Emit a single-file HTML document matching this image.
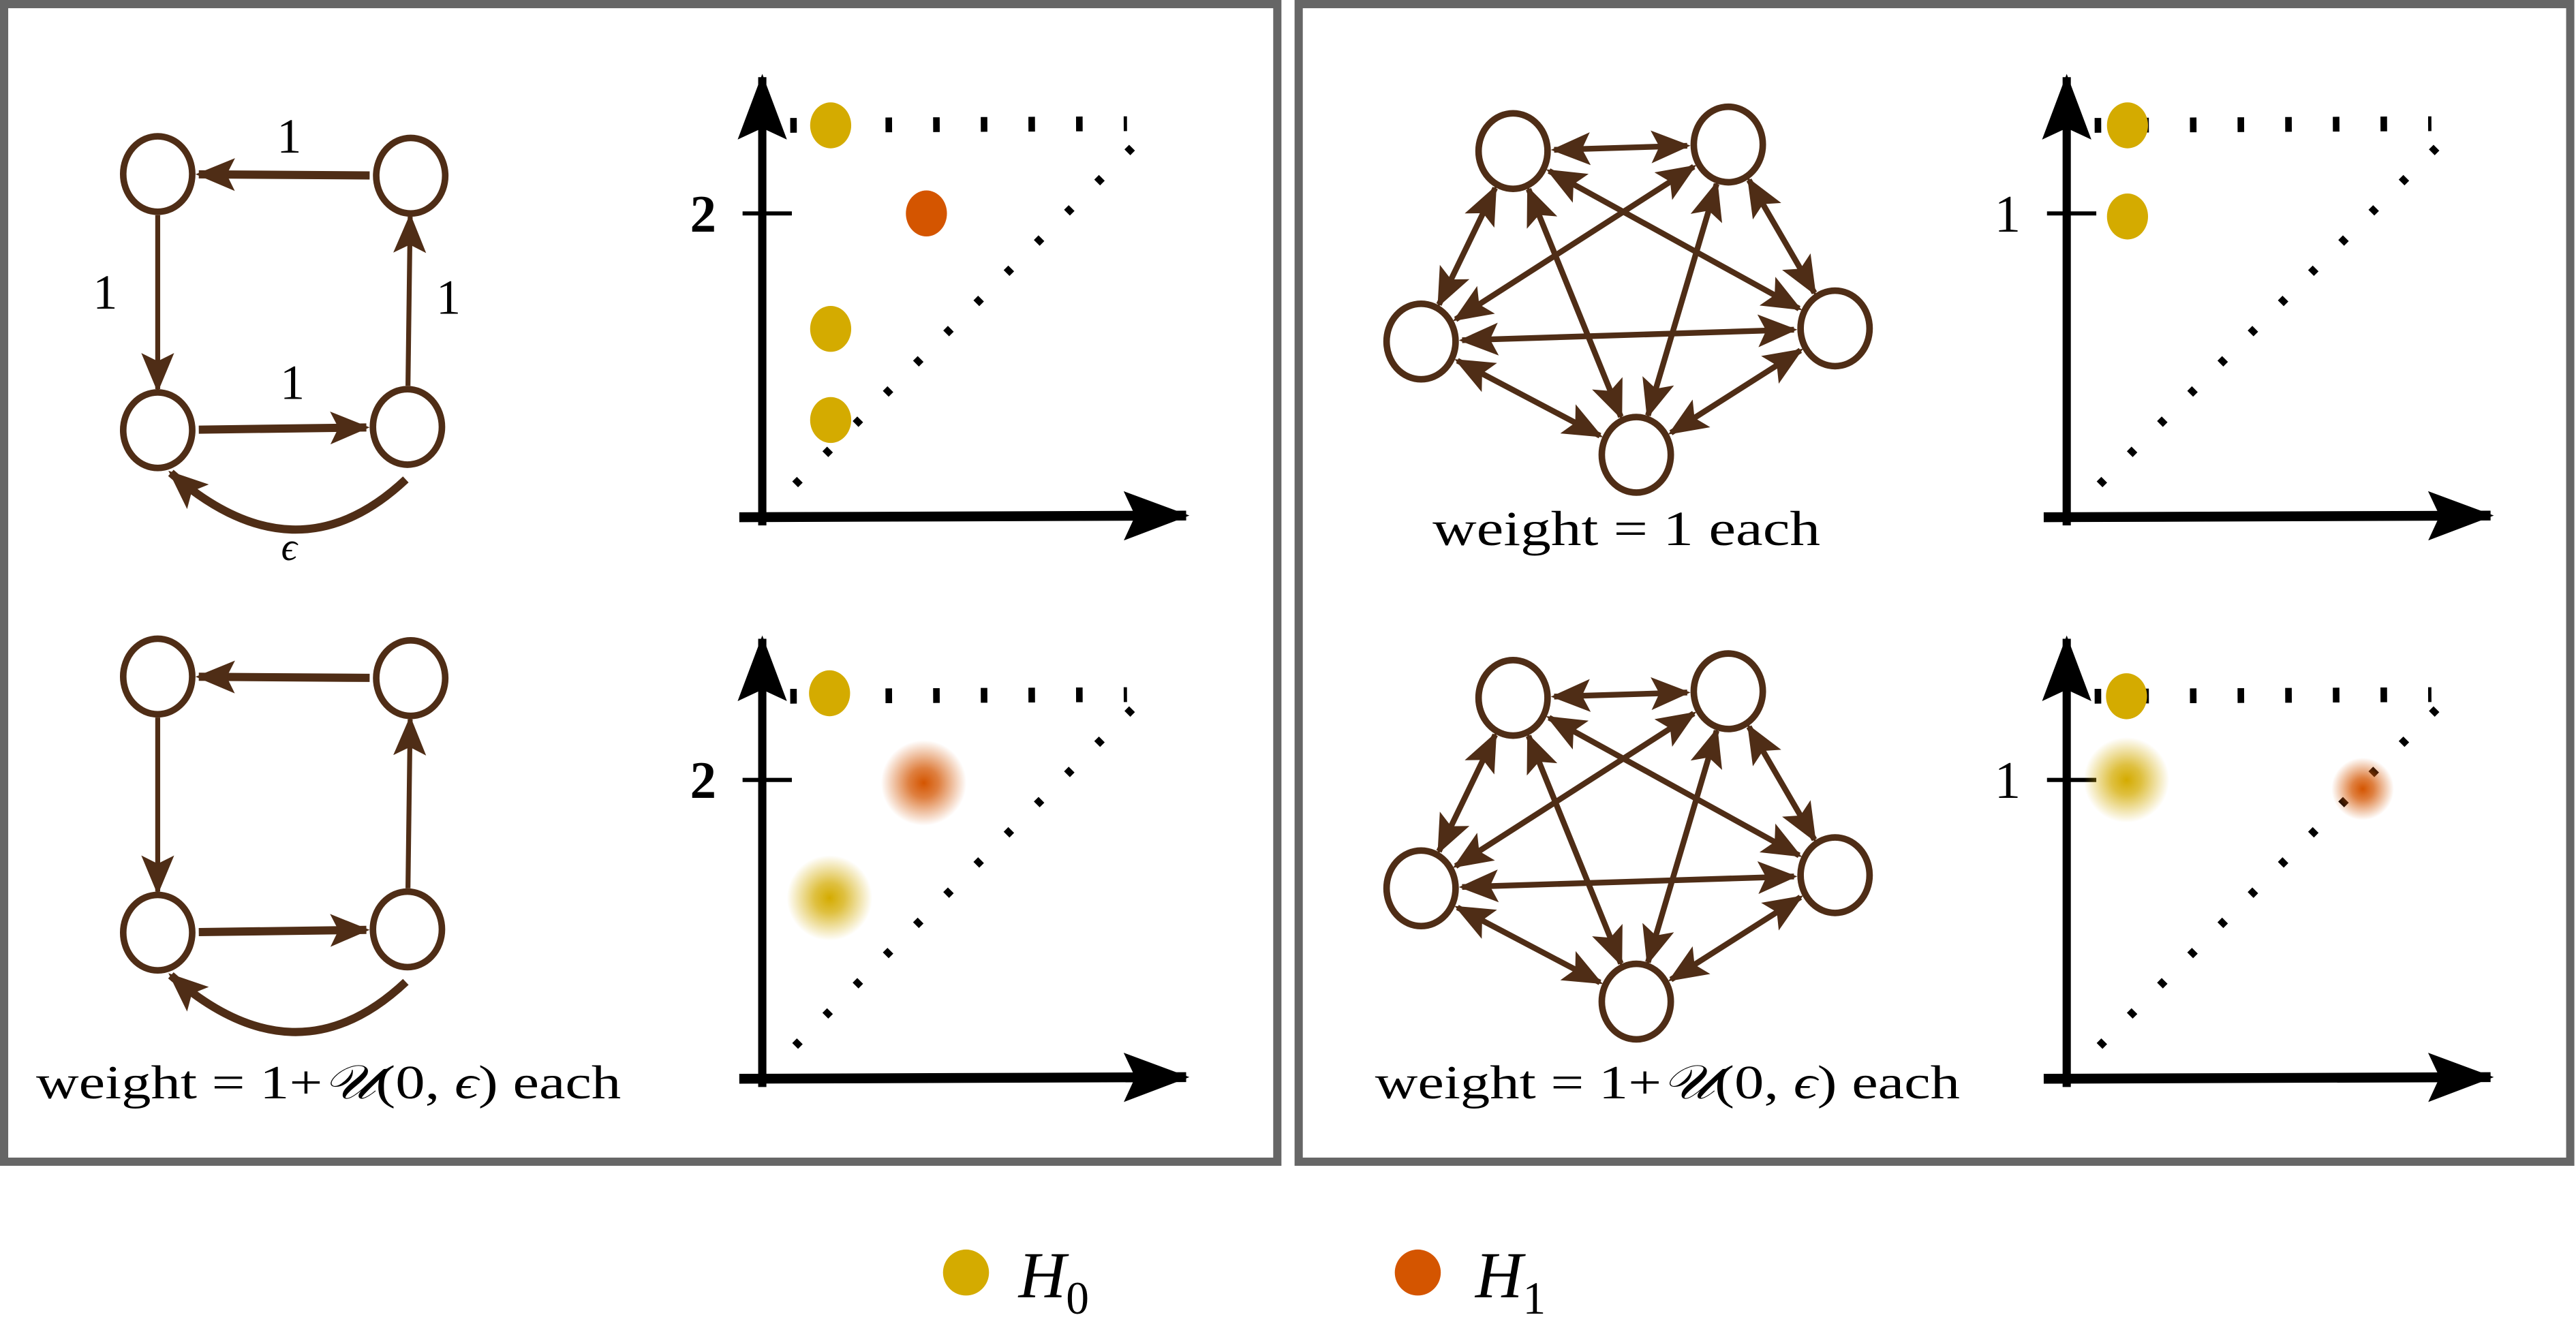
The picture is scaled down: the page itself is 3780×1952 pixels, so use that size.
<!DOCTYPE html>
<html><head><meta charset="utf-8"><style>
html,body{margin:0;padding:0;background:#fff}
svg{display:block}
</style></head><body>
<svg id="fig" width="3780" height="1952" viewBox="0 0 1568 810" preserveAspectRatio="none" xmlns="http://www.w3.org/2000/svg" font-family="Liberation Serif, serif">
<defs>
<marker id="ah" markerUnits="userSpaceOnUse" markerWidth="24" markerHeight="24" viewBox="0 0 24 24" refX="22" refY="12" orient="auto-start-reverse">
<path d="M0,2 L24,12 L0,22 L5,12 Z" fill="#4f2d16"/></marker>
<marker id="axh" markerUnits="userSpaceOnUse" markerWidth="40" markerHeight="30" viewBox="0 0 40 30" refX="38" refY="15" orient="auto">
<path d="M0,0 L40,15 L0,30 L7,15 Z" fill="#000"/></marker>
<radialGradient id="gy"><stop offset="0" stop-color="#d4ab00"/><stop offset="0.35" stop-color="#d4ab00" stop-opacity="0.75"/><stop offset="1" stop-color="#d4ab00" stop-opacity="0"/></radialGradient>
<radialGradient id="go"><stop offset="0" stop-color="#d45500"/><stop offset="0.35" stop-color="#d45500" stop-opacity="0.75"/><stop offset="1" stop-color="#d45500" stop-opacity="0"/></radialGradient>
</defs>
<rect x="2.5" y="2.5" width="775" height="705" fill="#fff" stroke="#666" stroke-width="5"/>
<rect x="790.5" y="2.5" width="774" height="705" fill="#fff" stroke="#666" stroke-width="5"/>
<g id="graphs"></g>
<g id="charts"></g>
<text x="176" y="93" font-size="30" text-anchor="middle" font-family="Liberation Serif, serif">1</text>
<text x="64" y="188" font-size="30" text-anchor="middle" font-family="Liberation Serif, serif">1</text>
<text x="273" y="191" font-size="30" text-anchor="middle" font-family="Liberation Serif, serif">1</text>
<text x="178" y="243" font-size="30" text-anchor="middle" font-family="Liberation Serif, serif">1</text>
<text x="176" y="341" font-size="24" font-style="italic" text-anchor="middle" font-family="Liberation Serif, serif">ϵ</text>
<text x="200" y="669" font-size="29" text-anchor="middle" textLength="356" lengthAdjust="spacingAndGlyphs" font-family="Liberation Serif, serif">weight = 1+<tspan font-style="italic">𝒰</tspan>(0, <tspan font-style="italic">ϵ</tspan>) each</text>
<text x="990" y="332" font-size="30" text-anchor="middle" textLength="236" lengthAdjust="spacingAndGlyphs" font-family="Liberation Serif, serif">weight = 1 each</text>
<text x="1015" y="669" font-size="29" text-anchor="middle" textLength="356" lengthAdjust="spacingAndGlyphs" font-family="Liberation Serif, serif">weight = 1+<tspan font-style="italic">𝒰</tspan>(0, <tspan font-style="italic">ϵ</tspan>) each</text>
<g>
<circle cx="588" cy="775" r="14" fill="#d4ab00"/>
<text x="620" y="790" font-size="40" font-style="italic" font-family="Liberation Serif, serif">H<tspan font-size="28" dy="10" font-style="normal">0</tspan></text>
<circle cx="863" cy="775" r="14" fill="#d45500"/>
<text x="898" y="790" font-size="40" font-style="italic" font-family="Liberation Serif, serif">H<tspan font-size="28" dy="10" font-style="normal">1</tspan></text>
</g>
</svg>
<script>
// persistence diagram data (birth, death, homology dim, blur spread)
const tlBirth=[0.45,0.45,0.45,1.08];
const tlDeath=[2.58,1.24,0.64,2.0];
const tlDim=[0,0,0,1];
const tlSpread=[0,0,0,0];
const blBirth=[0.45,1.08,0.45];
const blDeath=[2.58,1.98,1.21];
const blDim=[0,1,0];
const blSpread=[0,1,1];
const trBirth=[0.2,0.2];
const trDeath=[1.29,0.99];
const trDim=[0,0];
const trSpread=[0,0];
const brBirth=[0.2,0.2,0.99];
const brDeath=[1.28,1.0,0.97];
const brDim=[0,0,1];
const brSpread=[0,1,0.5];
const tlTick=['2'],tlTickVal=[2];
const trTick=['1'],trTickVal=[1];

const NS='http://www.w3.org/2000/svg';
function mk(parent,tag,attrs){const e=document.createElementNS(NS,tag);for(const k in attrs)e.setAttribute(k,attrs[k]);parent.appendChild(e);return e;}
const charts=document.getElementById('charts');
function chart(name,ox,oy,k,inf,tickL,tickV,B,D,Dm,S){
  const g=mk(charts,'g',{});
  
  
  const sx=v=>ox+v*k, sy=v=>oy-v*k;
  const ya=mk(g,'line',{x1:ox,y1:oy+5,x2:ox,y2:oy-268,stroke:'#000','stroke-width':5,'marker-end':'url(#axh)'});
  
  
  const xa=mk(g,'line',{x1:ox-14,y1:oy,x2:ox+258,y2:oy-1,stroke:'#000','stroke-width':6,'marker-end':'url(#axh)'});
  
  
  tickV.forEach((v,i)=>{
    const t=mk(g,'line',{x1:ox-12,y1:sy(v),x2:ox+18,y2:sy(v),stroke:'#000','stroke-width':2.5});
    
    
    const tx=mk(g,'text',{x:ox-36,y:sy(v)+11,'font-size':32,'text-anchor':'middle','font-family':'Liberation Serif, serif','font-weight':tickL[i]==='2'?'bold':'normal'});
    tx.textContent=tickL[i];
    
    
  });
  const hl=mk(g,'line',{x1:ox+17,y1:sy(inf),x2:ox+222,y2:sy(inf)-1,stroke:'#000','stroke-width':9,'stroke-dasharray':'4 25'});
  
  
  const dmax=226/k, dmin=20/k;
  const dl=mk(g,'line',{x1:sx(dmin),y1:sy(dmin),x2:sx(dmax),y2:sy(dmax),stroke:'#000','stroke-width':5,'stroke-dasharray':'4 22'});
  
  
  B.forEach((b,i)=>{
    const col=Dm[i]===0?'#d4ab00':'#d45500';
    let p;
    if(S[i]>0){p=mk(g,'circle',{cx:sx(b),cy:sy(D[i]),r:12+14*S[i],fill:Dm[i]===0?'url(#gy)':'url(#go)'});}
    else{p=mk(g,'ellipse',{cx:sx(b),cy:sy(D[i]),rx:12.5,ry:14,fill:col});}
    
    
  });
}
chart('diagram-top-left',464,315,92.5,2.58,tlTick,tlTickVal,tlBirth,tlDeath,tlDim,tlSpread);
chart('diagram-bottom-left',464,657,91,2.56,tlTick,tlTickVal,blBirth,blDeath,blDim,blSpread);
chart('diagram-top-right',1258,315,185,1.29,trTick,trTickVal,trBirth,trDeath,trDim,trSpread);
chart('diagram-bottom-right',1258,657,182,1.28,trTick,trTickVal,brBirth,brDeath,brDim,brSpread);

const graphs=document.getElementById('graphs');
function node(g,x,y){const c=mk(g,'ellipse',{cx:x,cy:y,rx:21,ry:23,fill:'#fff',stroke:'#4f2d16','stroke-width':4});
  
  }
function edge(g,a,b,both,w){
  const dx=b[0]-a[0],dy=b[1]-a[1],L=Math.hypot(dx,dy),ux=dx/L,uy=dy/L,r=25;
  const attrs={x1:a[0]+ux*r,y1:a[1]+uy*r,x2:b[0]-ux*r,y2:b[1]-uy*r,stroke:'#4f2d16','stroke-width':w,'marker-end':'url(#ah)'};
  if(both)attrs['marker-start']='url(#ah)';
  const l=mk(g,'line',attrs);
  
  
}
function square(name,dy){
  const g=mk(graphs,'g',{});
  
  
  const A=[96,106+dy],Bn=[250,107+dy],C=[96,262+dy],Dd=[248,260+dy];
  edge(g,Bn,A,false,5);edge(g,A,C,false,3);edge(g,Dd,Bn,false,3);edge(g,C,Dd,false,5);
  const cv=mk(g,'path',{d:`M247,${292+dy} Q180,${355+dy} 104,${288+dy}`,fill:'none',stroke:'#4f2d16','stroke-width':5,'marker-end':'url(#ah)'});
  
  
  [A,Bn,C,Dd].forEach(p=>node(g,p[0],p[1]));
}
square('cycle-graph-top',0);
square('cycle-graph-bottom',306);
function penta(name,dy){
  const g=mk(graphs,'g',{});
  
  
  const P=[[921,92+dy],[1052,88+dy],[865,208+dy],[1117,200+dy],[996,277+dy]];
  for(let i=0;i<5;i++)for(let j=i+1;j<5;j++)edge(g,P[i],P[j],true,3.5);
  P.forEach(p=>node(g,p[0],p[1]));
}
penta('complete-graph-top',0);
penta('complete-graph-bottom',333);
</script>
</body></html>
